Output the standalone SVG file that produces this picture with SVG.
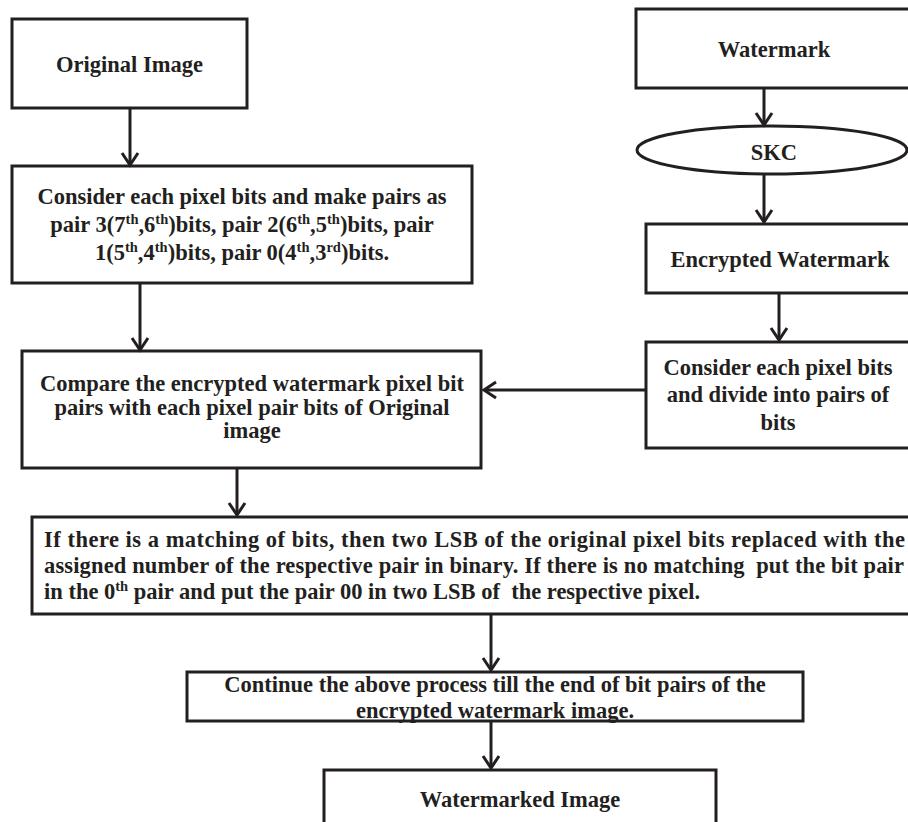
<svg xmlns="http://www.w3.org/2000/svg" width="908" height="822" viewBox="0 0 908 822">
<style>
.box{fill:#fff;stroke:#231f20;stroke-width:3}
.t{font-family:"Liberation Serif","Times New Roman",serif;font-weight:bold;font-size:22.5px;fill:#231f20;white-space:pre}
.c{text-anchor:middle}
.sup{font-size:14.5px}
.conn path{fill:none;stroke:#231f20;stroke-width:3}
</style>
<defs>
<marker id="arr" markerUnits="userSpaceOnUse" viewBox="-16 -12 20 24" markerWidth="20" markerHeight="24" refX="0" refY="0" orient="auto" overflow="visible">
<path d="M-12,-8 L0,0 L-12,8" fill="none" stroke="#231f20" stroke-width="3" stroke-linejoin="miter"/>
</marker>
</defs>
<rect width="908" height="822" fill="#fff"/>

<g id="original">
<rect class="box" x="12" y="19" width="235" height="89"/>
<text class="t c" x="129.5" y="72">Original Image</text>
</g>

<g id="consider">
<rect class="box" x="12" y="166" width="460" height="117"/>
<text class="t c" x="242" y="204">Consider each pixel bits and make pairs as</text>
<text class="t c" x="242" y="232">pair 3(7<tspan class="sup" dy="-8">th</tspan><tspan dy="8">,6</tspan><tspan class="sup" dy="-8">th</tspan><tspan dy="8">)bits, pair 2(6</tspan><tspan class="sup" dy="-8">th</tspan><tspan dy="8">,5</tspan><tspan class="sup" dy="-8">th</tspan><tspan dy="8">)bits, pair</tspan></text>
<text class="t c" x="242" y="260">1(5<tspan class="sup" dy="-8">th</tspan><tspan dy="8">,4</tspan><tspan class="sup" dy="-8">th</tspan><tspan dy="8">)bits, pair 0(4</tspan><tspan class="sup" dy="-8">th</tspan><tspan dy="8">,3</tspan><tspan class="sup" dy="-8">rd</tspan><tspan dy="8">)bits.</tspan></text>
</g>

<g id="watermark">
<rect class="box" x="636" y="9" width="290" height="79"/>
<text class="t c" x="774" y="57">Watermark</text>
</g>

<g id="skc">
<ellipse class="box" cx="772" cy="150" rx="135" ry="24"/>
<text class="t c" x="774" y="160">SKC</text>
</g>

<g id="encrypted">
<rect class="box" x="646" y="224" width="280" height="69"/>
<text class="t c" x="780" y="267">Encrypted Watermark</text>
</g>

<g id="divide">
<rect class="box" x="646" y="342" width="280" height="106"/>
<text class="t c" x="778" y="375">Consider each pixel bits</text>
<text class="t c" x="778" y="402">and divide into pairs of</text>
<text class="t c" x="778" y="430">bits</text>
</g>

<g id="compare">
<rect class="box" x="22" y="351" width="459" height="117"/>
<text class="t c" x="252" y="391">Compare the encrypted watermark pixel bit</text>
<text class="t c" x="252" y="415">pairs with each pixel pair bits of Original</text>
<text class="t c" x="252" y="438">image</text>
</g>

<g id="match">
<rect class="box" x="32" y="517" width="900" height="97"/>
<text class="t" x="44" y="547" textLength="861" lengthAdjust="spacing">If there is a matching of bits, then two LSB of the original pixel bits replaced with the</text>
<text class="t" x="44" y="573" textLength="860" lengthAdjust="spacing">assigned number of the respective pair in binary. If there is no matching  put the bit pair</text>
<text class="t" x="44" y="599">in the 0<tspan class="sup" dy="-8">th</tspan><tspan dy="8"> pair and put the pair 00 in two LSB of  the respective pixel.</tspan></text>
</g>

<g id="continue">
<rect class="box" x="187" y="672" width="616" height="49"/>
<text class="t c" x="495" y="692">Continue the above process till the end of bit pairs of the</text>
<text class="t c" x="495" y="718">encrypted watermark image.</text>
</g>

<g id="watermarked">
<rect class="box" x="324" y="770" width="392" height="70"/>
<text class="t c" x="520" y="807">Watermarked Image</text>
</g>

<g id="connectors" class="conn">
<path d="M130,108 L130,165" marker-end="url(#arr)"/>
<path d="M140,283 L140,350" marker-end="url(#arr)"/>
<path d="M764,88 L764,125" marker-end="url(#arr)"/>
<path d="M764,174 L764,222" marker-end="url(#arr)"/>
<path d="M779,293 L779,340" marker-end="url(#arr)"/>
<path d="M646,390 L484,390" marker-end="url(#arr)"/>
<path d="M237,468 L237,515" marker-end="url(#arr)"/>
<path d="M491,614 L491,670" marker-end="url(#arr)"/>
<path d="M491,721 L491,768" marker-end="url(#arr)"/>
</g>
</svg>
